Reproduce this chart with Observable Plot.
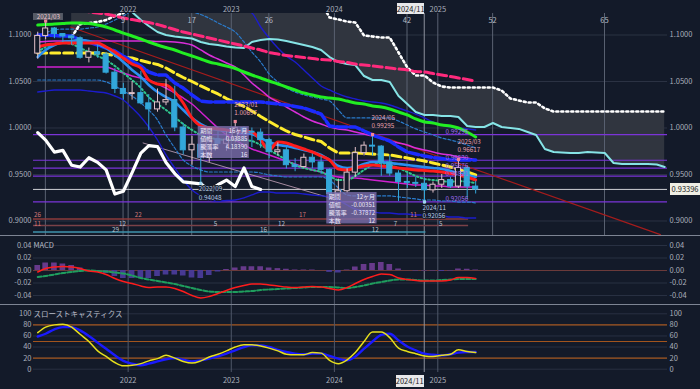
<!DOCTYPE html>
<html><head><meta charset="utf-8">
<script src="https://cdn.jsdelivr.net/npm/d3@7"></script>
<script src="https://cdn.jsdelivr.net/npm/@observablehq/plot@0.6"></script>
<style>
body{margin:0;background:#131a29;}
#wrap{position:relative;width:700px;height:389px;overflow:hidden;background:#131a29;font-family:'Noto Sans CJK JP','Noto Sans',sans-serif;}
#wrap svg{position:absolute;left:0;}
.tag{position:absolute;font-size:7.5px;line-height:11px;text-align:center;color:#222;background:#e8e8ea;}
.sep{position:absolute;left:0;width:700px;height:1px;background:#7d8493;}
</style></head><body><div id="wrap"></div><script>
// ---------- data ----------
const months = ["2021-02","2021-03","2021-04","2021-05","2021-06","2021-07","2021-08","2021-09","2021-10","2021-11","2021-12",
"2022-01","2022-02","2022-03","2022-04","2022-05","2022-06","2022-07","2022-08","2022-09","2022-10","2022-11","2022-12",
"2023-01","2023-02","2023-03","2023-04","2023-05","2023-06","2023-07","2023-08","2023-09","2023-10","2023-11","2023-12",
"2024-01","2024-02","2024-03","2024-04","2024-05","2024-06","2024-07","2024-08","2024-09","2024-10","2024-11","2024-12",
"2025-01","2025-02","2025-03","2025-04","2025-05","2025-06","2025-07","2025-08","2025-09","2025-10","2025-11","2025-12",
"2026-01","2026-02","2026-03","2026-04","2026-05","2026-06","2026-07","2026-08","2026-09","2026-10","2026-11","2026-12",
"2027-01","2027-02","2027-03"];
const openP = [1.0800,1.0990,1.1070,1.1010,1.0985,1.0965,1.0755,1.0815,1.0790,1.0595,1.0420,
1.0365,1.0375,1.0265,1.0200,1.0275,1.0300,1.0005,0.9760,0.9820,0.9680,0.9880,0.9830,
0.9875,1.0000,0.9960,0.9950,0.9870,0.9740,0.9760,0.9600,0.9580,0.9680,0.9630,0.9550,
0.9290,0.9320,0.9520,0.9730,0.9810,0.9800,0.9630,0.9510,0.9420,0.9410,0.9400,0.9330,
0.9390,0.9440,0.9370,0.9570,0.9370];
const highP = [1.1030,1.1150,1.1080,1.1010,1.1000,1.0980,1.0860,1.0890,1.0810,1.0640,1.0480,
1.0500,1.0610,1.0360,1.0420,1.0520,1.0450,1.0050,0.9910,0.9880,0.9960,0.9960,0.9960,
1.00697,1.0010,1.0000,0.9990,0.9890,0.9840,0.9790,0.9670,0.9720,0.9720,0.9690,0.9560,
0.9450,0.9560,0.9790,0.9850,0.99295,0.9810,0.9700,0.9540,0.9510,0.9470,0.9460,0.9420,
0.9500,0.9470,0.96617,0.9590,0.9430];
const lowP = [1.0740,1.0950,1.0960,1.0920,1.0890,1.0740,1.0700,1.0750,1.0580,1.0370,1.0300,
1.0300,1.0250,0.9970,1.0170,1.0240,0.9960,0.9710,0.9600,0.94048,0.9630,0.9770,0.9750,
0.9840,0.9850,0.9790,0.9780,0.9670,0.9700,0.9560,0.9530,0.9570,0.9560,0.9500,0.9250,
0.9260,0.9300,0.9470,0.9700,0.9700,0.9480,0.9480,0.9210,0.9350,0.9360,0.92056,0.9300,
0.9350,0.9350,0.9350,0.9230,0.9290];
const closeP = [1.0990,1.1070,1.1010,1.0985,1.0965,1.0755,1.0815,1.0790,1.0595,1.0420,1.0365,
1.0375,1.0265,1.0200,1.0275,1.0300,1.0005,0.9760,0.9820,0.9680,0.9880,0.9830,0.9875,
1.0000,0.9960,0.9950,0.9870,0.9740,0.9760,0.9600,0.9580,0.9680,0.9630,0.9550,0.9290,
0.9320,0.9520,0.9730,0.9810,0.9800,0.9630,0.9510,0.9420,0.9410,0.9400,0.9330,0.9390,
0.9440,0.9370,0.9570,0.9370,0.93396];
const chikouShift = 25;

const spanA = [null,null,null,null,1.13,1.13,1.13,1.13,1.13,1.13,1.13,
1.1247,1.1161,1.1097,1.1032,1.1000,1.0984,1.0973,1.0962,1.0925,1.0903,1.0892,1.0876,
1.0865,1.0860,1.0925,1.0946,1.0957,1.0951,1.0935,1.0914,1.0892,1.0871,1.0839,1.0763,
1.0709,1.0688,1.0677,1.0559,1.0516,1.0516,1.0495,1.0344,1.0258,1.0172,1.0140,1.0140,
1.0129,1.0129,1.0118,1.0022,1.0011,1.0011,1.0054,1.0011,1.0000,0.9990,0.9957,0.9925,
0.9774,0.9742,0.9737,0.9731,0.9731,0.9742,0.9737,0.9731,0.9624,0.9613,0.9613,0.9613,
0.9613,0.9608,0.9581];
const spanB = [null,null,null,null,1.0978,1.1118,1.1129,1.1140,1.1161,1.1204,1.1236,
1.135,1.135,1.135,1.135,1.135,1.135,1.135,1.135,1.135,1.135,1.135,1.135,
1.135,1.135,1.135,1.135,1.135,1.135,1.135,1.135,1.135,1.135,1.135,1.1188,
1.1167,1.1145,1.1134,1.0995,1.0984,1.0973,1.0973,1.0812,1.0651,1.0565,1.0565,1.0489,
1.0446,1.0435,1.0435,1.0435,1.0435,1.0435,1.0435,1.0403,1.0317,1.0296,1.0274,1.0274,
1.0210,1.0177,1.0177,1.0177,1.0177,1.0177,1.0177,1.0177,1.0177,1.0177,1.0177,1.0177,
1.0177,1.0177,1.0177];

const greenMA = [1.1107,1.1113,1.1118,1.1123,1.1129,1.1129,1.1123,1.1107,1.1086,1.1054,1.1021,
1.0989,1.0957,1.0925,1.0892,1.0865,1.0839,1.0806,1.0774,1.0742,1.0710,1.0688,1.0667,
1.0640,1.0602,1.0570,1.0538,1.0505,1.0473,1.0441,1.0409,1.0376,1.0355,1.0333,1.0323,
1.0312,1.0290,1.0269,1.0258,1.0237,1.0226,1.0204,1.0172,1.0140,1.0097,1.0065,1.0054,
1.0032,1.0022,1.0000,0.9957,0.9903];
const pinkMA = [null,null,null,null,null,1.127,1.125,1.1236,1.1226,1.1204,1.1183,
1.1166,1.1150,1.1134,1.1113,1.1086,1.1059,1.1032,1.1011,1.0989,1.0968,1.0946,1.0925,
1.0903,1.0882,1.0860,1.0839,1.0812,1.0796,1.0779,1.0769,1.0758,1.0747,1.0736,1.0731,
1.0715,1.0704,1.0688,1.0677,1.0667,1.0656,1.0645,1.0634,1.0624,1.0607,1.0602,1.0586,
1.0570,1.0554,1.0538,1.0521,1.0505];
const yellowMA = [1.0806,1.0806,1.0806,1.0806,1.0806,1.0806,1.0806,1.0806,1.0796,1.0779,1.0763,
1.0752,1.0726,1.0704,1.0683,1.0645,1.0591,1.0543,1.0500,1.0452,1.0409,1.0366,1.0317,
1.0274,1.0231,1.0183,1.0124,1.0070,1.0016,0.9968,0.9930,0.9903,0.9876,0.9855,0.9785,
0.9731,0.9731,0.9731,0.9726,0.9720,0.9715,0.9710,0.9694,0.9677,0.9661,0.9645,0.9624,
0.9602,0.9581,0.9554,0.9527,0.9495];
const blueMA = [1.1000,1.1000,1.0994,1.0989,1.0989,1.0946,1.0925,1.0892,1.0860,1.0828,1.0774,
1.0720,1.0667,1.0602,1.0570,1.0570,1.0484,1.0430,1.0355,1.0290,1.0280,1.0280,1.0280,
1.0280,1.0280,1.0280,1.0280,1.0269,1.0258,1.0247,1.0231,1.0215,1.0183,1.0150,1.0022,
1.0011,1.0011,1.0011,0.9968,0.9925,0.9892,0.9860,0.9796,0.9742,0.9720,0.9699,0.9683,
0.9672,0.9656,0.9656,0.9656,0.9656];
const redMA = [1.0871,1.0892,1.0903,1.0914,1.0914,1.0914,1.0914,1.0914,1.0871,1.0817,1.0752,
1.0688,1.0645,1.0516,1.0473,1.0462,1.0387,1.0269,1.0108,1.0022,1.0000,0.9990,0.9979,
0.9968,0.9968,0.9957,0.9871,0.9764,0.9849,0.9839,0.9806,0.9774,0.9742,0.9699,0.9656,
0.9559,0.9549,0.9570,0.9592,0.9602,0.9592,0.9581,0.9570,0.9559,0.9549,0.9543,0.9538,
0.9527,0.9511,0.9495,0.9473,0.9441];
const skyMA = [1.0763,1.0839,1.0892,1.0925,1.0935,1.0946,1.0935,1.0903,1.0860,1.0785,1.0710,
1.0624,1.0549,1.0462,1.0387,1.0333,1.0279,1.0194,1.0108,1.0043,1.0000,0.9979,0.9968,
0.9957,0.9946,0.9935,0.9892,0.9849,0.9817,0.9806,0.9785,0.9764,0.9742,0.9710,0.9656,
0.9592,0.9570,0.9581,0.9613,0.9634,0.9634,0.9624,0.9613,0.9602,0.9592,0.9581,0.9570,
0.9559,0.9538,0.9516,0.9495,0.9473];
const magentaA = [1.0925,1.0930,1.0935,1.0935,1.0935,1.0935,1.0935,1.0935,1.0935,1.0935,1.0935,
1.0935,1.0935,1.0935,1.0930,1.0930,1.0925,1.0914,1.0892,1.0839,1.0785,1.0742,1.0699,
1.0656,1.0570,1.0484,1.0409,1.0333,1.0280,1.0226,1.0172,1.0118,1.0075,1.0043,1.0011,
0.9990,0.9979,0.9957,0.9935,0.9914,0.9892,0.9860,0.9839,0.9817,0.9785,0.9764,0.9742,
0.9720,0.9710,0.9688,0.9677,0.9656];
const magentaB = [1.0656,1.0656,1.0656,1.0656,1.0656,1.0656,1.0656,1.0656,1.0656,1.0624,1.0591,
1.0559,1.0538,1.0516,1.0473,1.0430,1.0376,1.0323,1.0258,1.0172,1.0086,1.0000,0.9925,
0.9871,0.9817,0.9774,0.9742,0.9710,0.9677,0.9645,0.9613,0.9581,0.9549,0.9527,0.9495,
0.9473,0.9463,0.9463,0.9452,0.9441,0.9430,0.9420,0.9409,0.9398,0.9387,0.9387,0.9377,
0.9377,0.9366,0.9366,0.9366,0.9366];
const bandUp = [1.0968,1.1021,1.1054,1.1064,1.1064,1.1064,1.1075,1.1086,1.1118,1.1161,1.1204,
1.1260,1.1280,1.1290,1.1300,1.1300,1.1300,1.1280,1.1250,1.1220,1.1180,1.1130,1.1086,
1.1032,1.0925,1.0817,1.0710,1.0581,1.0495,1.0430,1.0387,1.0355,1.0333,1.0312,1.0290,
1.0194,1.0108,1.0108,1.0108,1.0108,1.0108,1.0108,1.0075,1.0032,0.9990,0.9957,0.9925,
0.9892,0.9871,0.9849,0.9817,0.9785];
const bandLow = [1.0516,1.0516,1.0516,1.0516,1.0516,1.0516,1.0516,1.0516,1.0495,1.0452,1.0398,
1.0344,1.0269,1.0194,1.0086,0.9925,0.9785,0.9656,0.9592,0.9549,0.9527,0.9527,0.9527,
0.9527,0.9527,0.9527,0.9516,0.9495,0.9484,0.9473,0.9473,0.9473,0.9473,0.9473,0.9441,
0.9355,0.9280,0.9270,0.9270,0.9270,0.9270,0.9270,0.9259,0.9248,0.9237,0.9226,0.9226,
0.9215,0.9215,0.9204,0.9204,0.9194];
const navyLow = [1.0387,1.0398,1.0409,1.0409,1.0409,1.0409,1.0398,1.0387,1.0376,1.0344,1.0301,
1.0215,1.0118,1.0011,0.9871,0.9710,0.9570,0.9441,0.9334,0.9270,0.9226,0.9215,0.9220,
0.9226,0.9248,0.9280,0.9312,0.9312,0.9301,0.9301,0.9301,0.9290,0.9280,0.9270,0.9259,
0.9226,0.9172,0.9129,0.9108,0.9097,0.9086,0.9086,0.9076,0.9076,0.9065,0.9065,0.9054,
0.9054,0.9043,0.9043,0.9032,0.9032];
const navyUp = [null,null,null,null,null,null,null,null,null,null,null,
null,null,null,null,null,null,null,null,null,null,null,null,
1.1300,1.1270,1.1236,1.1086,1.0968,1.0860,1.0774,1.0710,1.0624,1.0538,1.0452,1.0409,
1.0366,1.0333,1.0312,1.0290,1.0280,1.0269,1.0247,1.0215,1.0183,1.0150,1.0108,1.0065,
1.0032,1.0011,1.0000,0.9990,0.9979];
const greenDots = [1.0817,1.0871,1.0903,1.0914,1.0903,1.0860,1.0817,1.0774,1.0731,1.0667,1.0591,
1.0516,1.0430,1.0333,1.0258,1.0194,1.0118,1.0043,0.9979,0.9925,0.9892,0.9882,0.9871,
0.9871,0.9871,0.9860,0.9817,0.9764,0.9710,0.9656,0.9602,0.9570,0.9549,0.9527,0.9484,
0.9441,0.9441,0.9484,0.9549,0.9602,0.9624,0.9602,0.9570,0.9527,0.9484,0.9452,0.9441,
0.9430,0.9420,0.9430,0.9420,0.9409];

const fibLevels = [0.99295, 0.96530, 0.95676, 0.94821, 0.92056];
const fibLabels = ["0.99295","0.96530","0.95676","0.94821","0.92056"];
const currentPrice = 0.93396;
const trendRed = [["2021-06-11",1.1086],["2027-02-28",0.8854]];
const trendPale = [["2022-02-23",0.9839],["2024-01-10",0.9226]];

const priceTicks = [0.90,0.95,1.00,1.05,1.10];
const yearTicks = ["2022-01-01","2023-01-01","2024-01-01","2025-01-01"];
const crossMonth = "2024-11";
const countBase = "2021-03-14";
const countMarks = [0,9,17,26,42,52,65];

const rowLevels = [0.9022, 0.8952, 0.8882];
const rowEnds = ["2025-04-20","2025-04-20","2024-11-20"];
const rowColors = ["#8e3b3b","#7a4148","#3f93ad"];
const rowTexts = [
 [0,"2021-02-14","26"],[0,"2022-02-06","22"],[0,"2023-09-10","17"],[0,"2024-10-07","11"],
 [1,"2021-02-14","11"],[1,"2021-12-12","12"],[1,"2022-11-06","5"],[1,"2023-06-28","12"],[1,"2024-08-04","7"],[1,"2025-01-11","5"],
 [2,"2021-11-17","29"],[2,"2023-04-25","16"],[2,"2024-05-25","12"]];

const highLowNotes = [
 ["2021-03",1.1150,"2021/03","","high"],
 ["2023-01",1.00697,"2023/01","1.00697","high"],
 ["2024-05",0.99295,"2024/05","0.99295","high"],
 ["2025-03",0.96617,"2025/03","0.96617","high"],
 ["2022-09",0.94048,"2022/09","0.94048","low"],
 ["2024-11",0.92056,"2024/11","0.92056","low"]];
const firstNoteBox = {x1:"2021-01-31", x2:"2021-05-17", y1:1.1156, y2:1.1231};

const infoBoxes = [
 {x1:"2022-09-06",x2:"2023-03-06",y1:0.9672,y2:1.0016,
  rows:[["期間","16ヶ月"],["値幅","0.03885"],["騰落率","4.18390"],["本数","16"]]},
 {x1:"2023-12-05",x2:"2024-05-31",y1:0.8968,y2:0.9306,
  rows:[["期間","12ヶ月"],["値幅","-0.00351"],["騰落率","-0.37872"],["本数","12"]]}];

const macdLine = [-0.0024,0.0032,0.0056,0.0064,0.0056,0.0032,-0.0008,-0.0024,-0.0064,-0.0128,-0.0176,
-0.0208,-0.0248,-0.0272,-0.0264,-0.0264,-0.0288,-0.0336,-0.0400,-0.0440,-0.0416,-0.0368,-0.0320,
-0.0272,-0.0240,-0.0216,-0.0216,-0.0232,-0.0248,-0.0264,-0.0272,-0.0264,-0.0256,-0.0264,-0.0288,
-0.0312,-0.0272,-0.0208,-0.0144,-0.0096,-0.0056,-0.0064,-0.0120,-0.0144,-0.0160,-0.0168,-0.0168,
-0.0168,-0.0152,-0.0112,-0.0112,-0.0128];
const signalLine = [-0.0104,-0.0088,-0.0064,-0.0040,-0.0024,-0.0008,0.0000,-0.0008,-0.0016,-0.0032,-0.0048,
-0.0080,-0.0120,-0.0144,-0.0168,-0.0192,-0.0216,-0.0248,-0.0280,-0.0312,-0.0336,-0.0344,-0.0344,
-0.0344,-0.0336,-0.0328,-0.0312,-0.0304,-0.0296,-0.0288,-0.0280,-0.0272,-0.0264,-0.0264,-0.0264,
-0.0272,-0.0280,-0.0264,-0.0240,-0.0208,-0.0184,-0.0160,-0.0144,-0.0144,-0.0152,-0.0160,-0.0160,
-0.0152,-0.0144,-0.0136,-0.0136,-0.0136];
const macdHist = [0.0080,0.0120,0.0120,0.0104,0.0080,0.0040,-0.0008,-0.0016,-0.0048,-0.0096,-0.0128,
-0.0128,-0.0128,-0.0128,-0.0096,-0.0072,-0.0072,-0.0088,-0.0120,-0.0128,-0.0080,-0.0024,0.0016,
0.0040,0.0060,0.0060,0.0060,0.0040,0.0030,0.0020,0.0008,0.0008,0.0008,0.0000,-0.0030,
-0.0040,0.0008,0.0056,0.0096,0.0112,0.0128,0.0096,0.0024,0.0000,-0.0008,-0.0008,-0.0008,
-0.0016,-0.0008,0.0024,0.0020,0.0008];
const macdTicks = [-0.04,-0.02,0,0.02,0.04];

const stochK = [66,76,80,81,76,63,50,33,23,12,6, 7,10,15,19,25,20,14,11,15,22,27,33,
40,44,44,42,38,33,27,26,26,30,29,16, 10,17,30,50,67,67,57,38,32,28,24,23, 25,27,35,32,30];
const stochD = [59,64,72,76,76,70,60,48,37,25,15, 10,7,10,14,18,20,17,14,16,19,23,28,
34,40,43,43,40,35,31,28,27,28,28,24, 19,16,23,37,50,62,64,52,41,34,28,26, 25,27,30,31,31];
const stochTicks = [0,20,40,60,80,100];
const stochLevels = [80,50,20];

// ---------- helpers ----------
const BG = "#131a29", AX = "#a9aebb", FONT = "'Noto Sans CJK JP','Noto Sans',sans-serif";
const UPC = "#e3c3cb", DNC = "#33a7da";
const dt = m => new Date(m + "-15T00:00:00Z");
const day = s => new Date(s + "T00:00:00Z");
const X_DOMAIN = [day("2021-01-31"), day("2027-03-25")];
const ser = arr => arr.map((v,i)=>({date: dt(months[i]), v})).filter(d => d.v != null);
const yearDates = yearTicks.map(day);
const crossDate = day(crossMonth + "-14");
const countDates = countMarks.map(n => d3.utcMonth.offset(day(countBase), n));
const baseStyle = {background:"none", color: AX, fontSize:"7.5px", fontFamily: FONT, overflow:"visible"};
const C = {clip: true};

const candles = closeP.map((c,i)=>({date: dt(months[i]), o: openP[i], h: highP[i], l: lowP[i], c, up: c >= openP[i]}));
const chikou = closeP.slice(chikouShift).map((c,i)=>({date: dt(months[i]), v: c}));
const cloud = months.map((m,i)=>({date: dt(m), a: spanA[i], b: spanB[i]})).filter(d => d.a != null && d.b != null);
const lineMark = (arr, o) => Plot.line(ser(arr), {x:"date", y:"v", ...C, ...o});

const rowsFlat = [];
infoBoxes.forEach(b => b.rows.forEach((r,i) => rowsFlat.push({
  x1: day(b.x1), x2: day(b.x2), y: b.y2 - (i + 0.6) * (b.y2 - b.y1) / 4, k: r[0], v: r[1]})));
const notes = highLowNotes.map(n => ({date: dt(n[0]), p: n[1], d: n[2], v: n[3], hi: n[4] === "high"}));
const hiFull = notes.filter(n => n.hi && n.v), hiShort = notes.filter(n => n.hi && !n.v), lows = notes.filter(n => !n.hi);
const rowDy = [-4, -1.5, -2];

// ---------- main panel ----------
const main = Plot.plot({
  width: 700, height: 236, marginTop: 13, marginBottom: 0, marginLeft: 33, marginRight: 33,
  style: baseStyle,
  x: {type: "utc", domain: X_DOMAIN},
  y: {domain: [0.88333, 1.12312]},
  marks: [
    Plot.ruleY(priceTicks, {stroke: "#2b3243"}),
    Plot.areaY(cloud, {x: "date", y1: "a", y2: "b", fill: "#30353f", curve: "linear", ...C}),
    Plot.ruleX(countDates, {stroke: "#5a6272", strokeWidth: 1}),
    Plot.ruleX(yearDates, {stroke: "#5a6272", strokeWidth: 1}),
    Plot.ruleX([crossDate], {stroke: "#8c929e", strokeWidth: 1}),
    Plot.ruleY(fibLevels, {stroke: "#7b34d8", strokeWidth: 1.2}),
    Plot.ruleY([currentPrice], {stroke: "#cfd0d6", strokeWidth: 1}),
    Plot.ruleY(rowLevels, {x1: X_DOMAIN[0], x2: (d,i) => day(rowEnds[i]), stroke: (d,i) => rowColors[i], strokeWidth: 1.6}),
    Plot.line(trendRed, {x: d => day(d[0]), y: d => d[1], stroke: "#a51c1c", strokeWidth: 1.2, ...C}),
    Plot.line(trendPale, {x: d => day(d[0]), y: d => d[1], stroke: "#c9a6be", strokeWidth: 1, strokeOpacity: 0.8, ...C}),
    lineMark(navyUp, {stroke: "#1c1ccc", strokeWidth: 1.4, curve: "monotone-x"}),
    lineMark(navyLow, {stroke: "#1c1ccc", strokeWidth: 1.4, curve: "monotone-x"}),
    lineMark(bandUp, {stroke: "#2a7bcc", strokeWidth: 1.2, strokeDasharray: "3,2", curve: "monotone-x"}),
    lineMark(bandLow, {stroke: "#2a7bcc", strokeWidth: 1.2, strokeDasharray: "3,2", curve: "monotone-x"}),
    lineMark(magentaA, {stroke: "#d92ed9", strokeWidth: 1.5, curve: "monotone-x"}),
    lineMark(magentaB, {stroke: "#d020d0", strokeWidth: 1.5, curve: "monotone-x"}),
    lineMark(greenDots, {stroke: "#2fc48c", strokeWidth: 2, strokeDasharray: "1.5,2.5", curve: "monotone-x"}),
    lineMark(spanA, {stroke: "#86e4e6", strokeWidth: 2}),
    lineMark(spanB, {stroke: "#ffffff", strokeWidth: 2.6, strokeDasharray: "2,3"}),
    lineMark(greenMA, {stroke: "#22ee22", strokeWidth: 3, curve: "monotone-x"}),
    lineMark(pinkMA, {stroke: "#ff2a7c", strokeWidth: 3, strokeDasharray: "9,4", curve: "monotone-x"}),
    lineMark(yellowMA, {stroke: "#ffec2e", strokeWidth: 3, strokeDasharray: "9,4"}),
    lineMark(blueMA, {stroke: "#1b2cff", strokeWidth: 3.5, strokeDasharray: "10,3"}),
    lineMark(skyMA, {stroke: "#2b8ff0", strokeWidth: 2.6, curve: "monotone-x"}),
    lineMark(redMA, {stroke: "#ff1c1c", strokeWidth: 3, curve: "monotone-x"}),
    Plot.ruleX(candles, {x: "date", y1: d => Math.max(d.o, d.c), y2: "h", stroke: d => d.up ? UPC : DNC, ...C}),
    Plot.ruleX(candles, {x: "date", y1: "l", y2: d => Math.min(d.o, d.c), stroke: d => d.up ? UPC : DNC, ...C}),
    Plot.rect(candles, {x1: d => d3.utcDay.offset(d.date, -9), x2: d => d3.utcDay.offset(d.date, 9),
      y1: "o", y2: "c", fill: d => d.up ? BG : DNC, stroke: d => d.up ? UPC : DNC, strokeWidth: 1, ...C}),
    Plot.line(chikou, {x: "date", y: "v", stroke: "#ffffff", strokeWidth: 3.2, ...C}),
    // annotations
    Plot.text(rowTexts.filter(d => d[0] === 0), {x: d => day(d[1]), y: d => rowLevels[0], text: d => d[2], dy: rowDy[0], fill: "#d27676", fontSize: 6.3}),
    Plot.text(rowTexts.filter(d => d[0] === 1), {x: d => day(d[1]), y: d => rowLevels[1], text: d => d[2], dy: rowDy[1],
      fill: d => d[1] === "2021-02-14" ? "#d27676" : "#b9c2cf", fontSize: 6.3}),
    Plot.text(rowTexts.filter(d => d[0] === 2), {x: d => day(d[1]), y: d => rowLevels[2], text: d => d[2], dy: rowDy[2], fill: "#b9c2cf", fontSize: 6.3}),
    Plot.text(fibLevels, {x: day("2025-01-28"), y: d => d, text: (d,i) => fibLabels[i], dy: -2.5, textAnchor: "start", fill: "#a06cf0", fontSize: 6.3}),
    Plot.rect([firstNoteBox], {x1: d => day(d.x1), x2: d => day(d.x2), y1: "y1", y2: "y2", fill: "#565b66"}),
    Plot.dot(notes, {x: "date", y: "p", symbol: "square", r: 1.8, fill: d => d.hi ? "#ef8597" : "#9fd6f0", ...C}),
    Plot.text(hiFull, {x: "date", y: "p", text: "d", dx: -1, dy: -17, textAnchor: "start", fill: "#e6a0ac", fontSize: 6.3}),
    Plot.text(hiFull, {x: "date", y: "p", text: "v", dx: -1, dy: -9, textAnchor: "start", fill: "#e6a0ac", fontSize: 6.3}),
    Plot.text(hiShort, {x: "date", y: "p", text: "d", dx: -9, dy: -4, textAnchor: "start", fill: "#e8c6cc", fontSize: 6.3}),
    Plot.text(lows, {x: "date", y: "p", text: "d", dx: -2, dy: 6, textAnchor: "start", fill: "#b9cde6", stroke: BG, strokeWidth: 2, paintOrder: "stroke", fontSize: 6.3}),
    Plot.text(lows, {x: "date", y: "p", text: "v", dx: -2, dy: 14.5, textAnchor: "start", fill: "#b9cde6", stroke: BG, strokeWidth: 2, paintOrder: "stroke", fontSize: 6.3}),
    Plot.rect(infoBoxes, {x1: d => day(d.x1), x2: d => day(d.x2), y1: "y1", y2: "y2", fill: "#7d6fae", fillOpacity: 0.78}),
    Plot.text(rowsFlat, {x: "x1", y: "y", text: "k", dx: 2, textAnchor: "start", fill: "#efe9fb", fontSize: 6}),
    Plot.text(rowsFlat, {x: "x2", y: "y", text: "v", dx: -2, textAnchor: "end", fill: "#efe9fb", fontSize: 6}),
    Plot.text(countMarks.filter(n => n > 0), {x: n => d3.utcMonth.offset(day(countBase), n), text: n => String(n), frameAnchor: "top", dy: 4, fill: "#b7bcc7", fontSize: 7.5}),
    Plot.axisY({ticks: priceTicks, anchor: "left", tickSize: 0, tickPadding: 2, tickFormat: d3.format(".4f"), label: null}),
    Plot.axisY({ticks: priceTicks, anchor: "right", tickSize: 0, tickPadding: 2, tickFormat: d3.format(".4f"), label: null}),
    Plot.axisX({ticks: yearDates, anchor: "top", tickSize: 0, tickPadding: 2, tickFormat: d3.utcFormat("%Y"), label: null})
  ]
});

// ---------- MACD panel ----------
const histData = macdHist.map((v,i)=>({date: dt(months[i]), v}));
const macd = Plot.plot({
  width: 700, height: 69, marginTop: 0, marginBottom: 0, marginLeft: 33, marginRight: 33,
  style: baseStyle,
  x: {type: "utc", domain: X_DOMAIN, axis: null},
  y: {domain: [-0.056, 0.0544]},
  marks: [
    Plot.ruleY(macdTicks.filter(t => t !== 0), {stroke: "#283042"}),
    Plot.ruleX(yearDates, {stroke: "#4f5768"}),
    Plot.ruleX([crossDate], {stroke: "#8c929e"}),
    Plot.ruleY([0], {stroke: "#6b3a3a", strokeWidth: 1.2}),
    Plot.rect(histData, {x1: d => d3.utcDay.offset(d.date, -10), x2: d => d3.utcDay.offset(d.date, 10), y1: 0, y2: "v",
      fill: d => d.v >= 0 ? "#6c3c90" : "#4a3b99", fillOpacity: 0.95}),
    Plot.line(ser(signalLine), {x: "date", y: "v", stroke: "#1f9e5e", strokeWidth: 2, strokeDasharray: "4,2", curve: "monotone-x"}),
    Plot.line(ser(macdLine), {x: "date", y: "v", stroke: "#ff1c1c", strokeWidth: 1.5, curve: "monotone-x"}),
    Plot.text(["MACD"], {frameAnchor: "top-left", dy: 6, textAnchor: "start", fill: "#b7bcc7", fontSize: 7.5}),
    Plot.axisY({ticks: macdTicks, anchor: "left", tickSize: 0, tickPadding: 2, tickFormat: t => t.toFixed(2), label: null}),
    Plot.axisY({ticks: macdTicks, anchor: "right", tickSize: 0, tickPadding: 2, tickFormat: t => t.toFixed(2), label: null})
  ]
});

// ---------- Stochastics panel ----------
const stoch = Plot.plot({
  width: 700, height: 84, marginTop: 0, marginBottom: 17, marginLeft: 33, marginRight: 33,
  style: baseStyle,
  x: {type: "utc", domain: X_DOMAIN},
  y: {domain: [-6, 115]},
  marks: [
    Plot.ruleY(stochTicks, {stroke: "#283042"}),
    Plot.ruleY(stochLevels, {stroke: "#a2541d", strokeWidth: 1.2}),
    Plot.ruleX(yearDates, {stroke: "#4f5768", y1: -6, y2: 115}),
    Plot.ruleX([crossDate], {stroke: "#8c929e", y1: -6, y2: 115}),
    Plot.line(ser(stochD), {x: "date", y: "v", stroke: "#1a1aff", strokeWidth: 2.4, curve: "monotone-x"}),
    Plot.line(ser(stochK), {x: "date", y: "v", stroke: "#e6df1c", strokeWidth: 1.5, curve: "monotone-x"}),
    Plot.text(["スローストキャスティクス"], {frameAnchor: "top-left", dy: 6, textAnchor: "start", fill: "#b7bcc7", fontSize: 7.5}),
    Plot.axisY({ticks: stochTicks, anchor: "left", tickSize: 0, tickPadding: 2, label: null}),
    Plot.axisY({ticks: stochTicks, anchor: "right", tickSize: 0, tickPadding: 2, label: null}),
    Plot.axisX({ticks: yearDates, anchor: "bottom", tickSize: 0, tickPadding: 5, tickFormat: d3.utcFormat("%Y"), label: null})
  ]
});

const wrap = document.getElementById("wrap");
main.style.top = "0px"; macd.style.top = "236px"; stoch.style.top = "305px";
wrap.append(main, macd, stoch);
const sep1 = document.createElement("div"); sep1.className = "sep"; sep1.style.top = "235px";
const sep2 = document.createElement("div"); sep2.className = "sep"; sep2.style.top = "304px";
wrap.append(sep1, sep2);

const sx = main.scale("x"), sy = main.scale("y");
const cx = sx.apply(crossDate);
function tag(text, left, top, w, h, extra) {
  const t = document.createElement("div");
  t.className = "tag"; t.textContent = text;
  Object.assign(t.style, {left: left + "px", top: top + "px", width: w + "px", height: h + "px", lineHeight: h + "px"}, extra || {});
  wrap.append(t);
}
const crossLabel = crossMonth.replace("-", "/");
tag(crossLabel, cx - 27, 3, 27, 11);
tag(crossLabel, cx - 28, 375, 28, 12);
const py = sy.apply(currentPrice);
tag(d3.format(".5f")(currentPrice), 670, py - 6, 30, 12, {background: "#efeee4"});
</script></body></html>
